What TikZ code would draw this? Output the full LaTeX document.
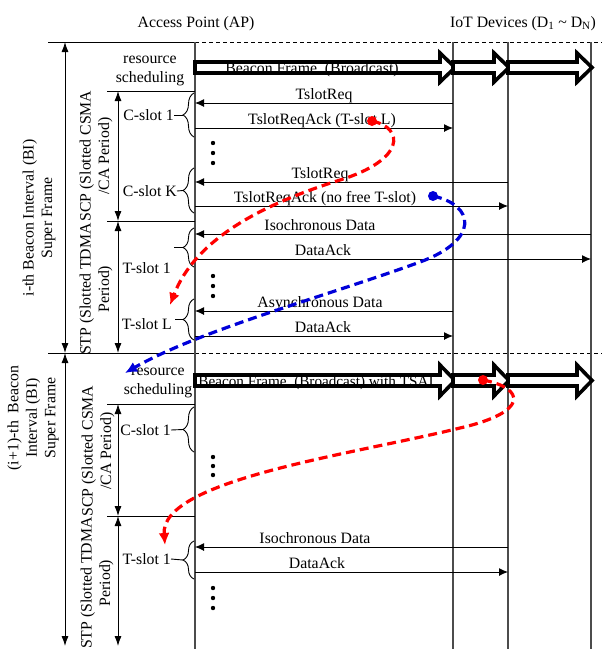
\documentclass[tikz,border=0pt]{standalone}
\usepackage{fontspec}
\setmainfont{Liberation Serif}
\usetikzlibrary{arrows.meta,decorations.pathreplacing}
\begin{document}
\begin{tikzpicture}[x=1pt,y=-1pt,
  every node/.style={font=\fontsize{15.8}{18.5}\selectfont, inner sep=0pt},
  life/.style={draw=black!70, line width=1.2pt},
  msg/.style={draw=black, line width=0.9pt, -{Latex[length=9pt,width=8pt]}},
  msglbl/.style={anchor=base},
  sepline/.style={draw=black, line width=1pt},
  sepdash/.style={draw=black, line width=0.9pt, dash pattern=on 4pt off 3pt},
  span/.style={draw=black, line width=0.9pt, {Latex[length=10pt,width=7pt]}-{Latex[length=10pt,width=7pt]}},
  slotbrace/.style={draw=black, line width=0.9pt, decorate, decoration={brace, amplitude=11pt}},
  beacon/.style={draw=black, line width=3.6pt, fill=white, line join=miter},
  trace/.style={line width=3.2pt, dash pattern=on 9pt off 5pt, -{Latex[length=12pt,width=11pt]}},
  rot/.style={rotate=90, align=center},
]
\useasboundingbox (0,0) rectangle (602,649);
\fill[white] (0,0) rectangle (602,649);

% lifeline coordinates
\coordinate (AP) at (195,42);
\coordinate (D1) at (453,42);
\coordinate (D2) at (508,42);
\coordinate (DN) at (591,42);
\coordinate (APb) at (195,649);
\coordinate (D1b) at (453,649);
\coordinate (D2b) at (508,649);
\coordinate (DNb) at (591,649);
\coordinate (L1) at (48,42);
\coordinate (R1) at (602,42);
\coordinate (L2) at (48,353);
\coordinate (R2) at (602,353);

% titles
\node[anchor=base] (tap) at (196,27) {Access Point (AP)};
\node[anchor=base] (tiot) at (523,27) {IoT Devices (D\textsubscript{1} \textasciitilde{} D\textsubscript{N})};

% frame borders
\draw[sepline] (L1) -- (AP);
\draw[sepdash] (AP) -- (R1);
\draw[sepline] (L2) -- (AP |- L2);
\draw[sepdash] (AP |- L2) -- (R2);

% lifelines
\draw[life] (AP) -- (APb);
\draw[life] (D1) -- (D1b);
\draw[life] (D2) -- (D2b);
\draw[life] (DN) -- (DNb);

% period separators
\coordinate (s1a) at (107,91);  \draw[sepline] (s1a) -- (AP |- s1a);
\coordinate (s1b) at (107,221); \draw[sepline] (s1b) -- (AP |- s1b);
\coordinate (s2a) at (107,404); \draw[sepline] (s2a) -- (AP |- s2a);
\coordinate (s2b) at (107,516); \draw[sepline] (s2b) -- (AP |- s2b);

% span arrows
\coordinate (b1t) at (65,42);  \coordinate (b1b) at (65,353);
\coordinate (b2t) at (65,353); \coordinate (b2b) at (65,646);
\draw[span] (b1t) -- (b1b);
\draw[span] (b2t) -- (b2b);
\coordinate (c1t) at (118,91);  \coordinate (c1b) at (118,221);
\coordinate (t1b) at (118,353);
\coordinate (c2t) at (118,404); \coordinate (c2b) at (118,516);
\coordinate (t2b) at (118,646);
\draw[span] (c1t) -- (c1b);
\draw[span] (c1b) -- (t1b);
\draw[span] (c2t) -- (c2b);
\draw[span] (c2b) -- (t2b);

% left rotated labels
\node[rot] (bi1) at (39,218) {i-th Beacon Interval (BI)\\Super Frame};
\node[rot] (bi2) at (33,418) {(i+1)-th~ Beacon\\Interval (BI)\\Super Frame};
\node[rot] (scp1) at (96,156) {SCP (Slotted CSMA\\/CA Period)};
\node[rot] (stp1) at (96,289) {STP (Slotted TDMA\\Period)};
\node[rot] (scp2) at (98,451) {SCP (Slotted CSMA\\/CA Period)};
\node[rot] (stp2) at (97,583) {STP (Slotted TDMA\\Period)};

\node[align=center] (rs1) at (150,71) {resource\\scheduling};
\node[align=center] (rs2) at (158,383) {resource\\scheduling};

% beacon frames
\foreach \xs/\xe in {195/455, 453/509, 508/592} {
  \draw[beacon] (\xs,62) -- (\xe-15,62) -- (\xe-15,53) -- (\xe,67.5) -- (\xe-15,82) -- (\xe-15,73) -- (\xs,73) -- cycle;
  \draw[beacon] (\xs,375) -- (\xe-15,375) -- (\xe-15,365) -- (\xe,380.5) -- (\xe-15,396) -- (\xe-15,386) -- (\xs,386) -- cycle;
}
\node[anchor=base] (bf1) at (312,73) {Beacon Frame~ (Broadcast)};
\node[anchor=base, font=\fontsize{15.2}{18}\selectfont] (bf2) at (316,386) {Beacon Frame~ (Broadcast) with TSAI};

% braces
\draw[slotbrace] (194,137) -- (194,93);
\draw[slotbrace] (194,213) -- (194,168);
\draw[slotbrace] (194,267) -- (194,228);
\draw[slotbrace] (194,340) -- (194,299);
\draw[slotbrace] (194,452) -- (194,407);
\draw[slotbrace] (194,579) -- (194,541);

\node[anchor=east] (cs1) at (174,115) {C-slot 1};
\node[anchor=east] (csk) at (177,191) {C-slot K};
\node[anchor=east] (ts1) at (171,268) {T-slot 1};
\node[anchor=east] (tsl) at (172,324) {T-slot L};
\node[anchor=east] (cs1b) at (171,430) {C-slot 1};
\node[anchor=east] (ts1b) at (171,559) {T-slot 1};
\coordinate (bt1) at (183,115);
\coordinate (bt2) at (183,190.5);
\coordinate (bt3) at (183,247.5);
\coordinate (bt4) at (183,319.5);
\coordinate (bt5) at (183,429.5);
\coordinate (bt6) at (183,560);
\draw[line width=0.9pt] (cs1.east) -- (bt1);
\draw[line width=0.9pt] (csk.east) -- (bt2);
\draw[line width=0.9pt] (bt3) -- ++(-9,0);
\draw[line width=0.9pt] (bt4) -- ++(-8,0);
\draw[line width=0.9pt] (cs1b.east) -- (bt5);
\draw[line width=0.9pt] (ts1b.east) -- (bt6);

% vertical dots
\foreach \y in {143,153,163, 276,286,296, 457,466,475, 588,598,608}
  \fill (213,\y) circle (2.2);

% messages, frame i
\draw[msg] (D1 |- 0,103) -- (AP |- 0,103);
\node[msglbl] (m1) at (324,99) {TslotReq};
\draw[msg] (AP |- 0,128) -- (D1 |- 0,128);
\node[msglbl] (m2) at (322,124) {TslotReqAck (T-slot L)};
\draw[msg] (D2 |- 0,182) -- (AP |- 0,182);
\node[msglbl] (m3) at (320,178) {TslotReq};
\draw[msg] (AP |- 0,206) -- (D2 |- 0,206);
\node[msglbl] (m4) at (325,202) {TslotReqAck (no free T-slot)};
\draw[msg] (DN |- 0,234) -- (AP |- 0,234);
\node[msglbl] (m5) at (320,230) {Isochronous Data};
\draw[msg] (AP |- 0,259) -- (DN |- 0,259);
\node[msglbl] (m6) at (323,255) {DataAck};
\draw[msg] (D1 |- 0,311) -- (AP |- 0,311);
\node[msglbl] (m7) at (320,307) {Asynchronous Data};
\draw[msg] (AP |- 0,336) -- (D1 |- 0,336);
\node[msglbl] (m8) at (323,332) {DataAck};

% messages, frame i+1
\draw[msg] (D2 |- 0,547) -- (AP |- 0,547);
\node[msglbl] (m9) at (315,543) {Isochronous Data};
\draw[msg] (AP |- 0,572) -- (D2 |- 0,572);
\node[msglbl] (m10) at (317,568) {DataAck};

% traces
\coordinate (r1s) at (372,121); \coordinate (r1m) at (340,180); \coordinate (r1e) at (170,305);
\coordinate (b1s) at (433,196); \coordinate (b1m) at (420,262); \coordinate (b1e) at (125,373);
\coordinate (r2s) at (483,380); \coordinate (r2m) at (460,428); \coordinate (r2e) at (165,545);
\fill[red] (r1s) circle (5);
\draw[trace, red] (r1s) .. controls (405,128) and (405,160) .. (r1m)
  .. controls (260,205) and (195,240) .. (r1e);
\fill[blue!85!black] (b1s) circle (5);
\draw[trace, blue!85!black] (b1s) .. controls (475,205) and (480,240) .. (b1m)
  .. controls (330,295) and (200,330) .. (b1e);
\fill[red] (r2s) circle (5);
\draw[trace, red] (r2s) .. controls (525,388) and (530,412) .. (r2m)
  .. controls (350,455) and (160,480) .. (r2e);
\end{tikzpicture}
\end{document}
